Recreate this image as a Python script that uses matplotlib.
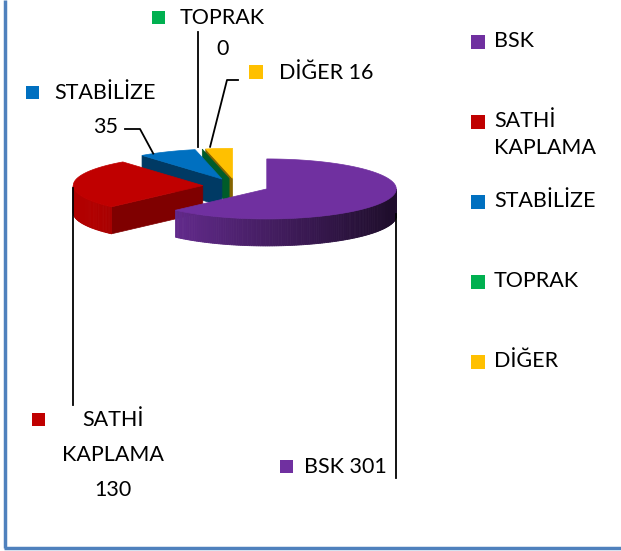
import numpy as np
import matplotlib
matplotlib.use("Agg")
import matplotlib.pyplot as plt
from matplotlib.patches import Polygon, Rectangle
from matplotlib.colors import to_rgb

# ---- data ----
categories = ["BSK", "SATHİ KAPLAMA", "STABİLİZE", "TOPRAK", "DİĞER"]
values = [301, 130, 35, 0, 16]
colors = ["#7030A0", "#C00000", "#0070C0", "#00B050", "#FFC000"]
legend_labels = ["BSK", "SATHİ\nKAPLAMA", "STABİLİZE", "TOPRAK", "DİĞER"]

plt.rcParams['font.family'] = ['Lato', 'DejaVu Sans']
FS = 15.5

W, H = 621, 551
fig = plt.figure(figsize=(W / 100, H / 100), dpi=100)
ax = fig.add_axes([0, 0, 1, 1])
ax.set_xlim(0, W)
ax.set_ylim(H, 0)
ax.axis("off")

# ---- 3D pie geometry (pixel space) ----
cx0, cy0 = 236.0, 186.0
rx, ry, th = 129.5, 30.0, 27.0
expl = 0.257


def shade(c, f):
    r, g, b = to_rgb(c)
    return (min(r * f, 1), min(g * f, 1), min(b * f, 1))


def pt(cx, cy, ang, z=0.0, r=1.0):
    a = np.radians(ang)
    return (cx + rx * r * np.cos(a), cy - ry * r * np.sin(a) + th * z)


total = float(sum(values))
slices = []
cum = 0.0
for i, v in enumerate(values):
    a_start = 90 - cum / total * 360
    a_end = a_start - v / total * 360
    cum += v
    mid = (a_start + a_end) / 2
    cx = cx0 + expl * rx * np.cos(np.radians(mid))
    cy = cy0 - expl * ry * np.sin(np.radians(mid))
    slices.append(dict(i=i, a_start=a_start, a_end=a_end, mid=mid, cx=cx, cy=cy))

for s in sorted(slices, key=lambda s: s["cy"]):
    c = colors[s["i"]]
    cx, cy, a1, a2 = s["cx"], s["cy"], s["a_start"], s["a_end"]
    # radial walls
    walls = []
    if np.sin(np.radians(a1 + 90)) < 0:
        walls.append(a1)
    if np.sin(np.radians(a2 - 90)) < 0:
        walls.append(a2)
    for wa in walls:
        f = 0.66 if s["i"] == 1 else 0.52
        poly = [pt(cx, cy, 0, 0, 0), pt(cx, cy, wa, 0), pt(cx, cy, wa, 1), pt(cx, cy, 0, 1, 0)]
        ax.add_patch(Polygon(poly, closed=True, fc=shade(c, f), ec=shade(c, f), lw=0.5, zorder=2))
    # outer wall
    if a1 > a2:
        n = max(int((a1 - a2) / 1.0), 2)
        angs = np.linspace(a2, a1, n + 1)
        for k in range(n):
            am = (angs[k] + angs[k + 1]) / 2
            if np.sin(np.radians(am)) < 0:
                f = np.clip(0.62 - 0.36 * np.cos(np.radians(am)), 0.28, 1.0)
                if s["i"] == 1:
                    f = np.clip(f, 0.8, 0.92)
                poly = [pt(cx, cy, angs[k], 0), pt(cx, cy, angs[k + 1], 0),
                        pt(cx, cy, angs[k + 1], 1), pt(cx, cy, angs[k], 1)]
                ax.add_patch(Polygon(poly, closed=True, fc=shade(c, f), ec=shade(c, f), lw=0.6, zorder=2))
        # top face
        arc = [pt(cx, cy, a) for a in np.linspace(a1, a2, n + 1)]
        poly = [pt(cx, cy, 0, 0, 0)] + arc
        ax.add_patch(Polygon(poly, closed=True, fc=c, ec=c, lw=0.5, zorder=3))

S = {s["i"]: s for s in slices}
lc = dict(color="black", lw=1.3, zorder=5)

# ---- data labels with leader lines ----
# BSK
s = S[0]
x0, y0 = pt(s["cx"], s["cy"], 0, 1)
ax.plot([x0, x0], [y0 - 2, 478], **lc)
ax.add_patch(Rectangle((280, 460), 13, 13, fc=colors[0], ec="none"))
ax.text(304, 467, "BSK 301", fontsize=FS, ha="left", va="center")

# SATHİ KAPLAMA
s = S[1]
x0, y0 = pt(s["cx"], s["cy"], 180, 0)
ax.plot([x0, x0], [y0 + 2, 405], **lc)
ax.add_patch(Rectangle((32, 413), 13, 13, fc=colors[1], ec="none"))
ax.text(113, 420, "SATHİ", fontsize=FS, ha="center", va="center")
ax.text(113, 455, "KAPLAMA", fontsize=FS, ha="center", va="center")
ax.text(113, 490, "130", fontsize=FS, ha="center", va="center")

# STABİLİZE
s = S[2]
x0, y0 = pt(s["cx"], s["cy"], s["mid"] + 7, 0)
ax.plot([x0, 140, 125], [y0, 129, 129], **lc)
ax.add_patch(Rectangle((26, 86), 13, 13, fc=colors[2], ec="none"))
ax.text(54, 93, "STABİLİZE", fontsize=FS, ha="left", va="center")
ax.text(106, 127, "35", fontsize=FS, ha="center", va="center")

# TOPRAK
s = S[3]
x0, y0 = pt(s["cx"], s["cy"], s["mid"], 0)
ax.plot([x0 - 4, x0 - 4], [y0 - 2, 32], **lc)
ax.add_patch(Rectangle((152, 11), 13, 13, fc=colors[3], ec="none"))
ax.text(180, 18, "TOPRAK", fontsize=FS, ha="left", va="center")
ax.text(223, 49, "0", fontsize=FS, ha="center", va="center")

# DİĞER
s = S[4]
x0, y0 = pt(s["cx"], s["cy"], s["mid"] + 4, 0)
ax.plot([x0, 227, 238], [y0 - 2, 80, 80], **lc)
ax.add_patch(Rectangle((249, 65), 14, 14, fc=colors[4], ec="none"))
ax.text(279, 73, "DİĞER 16", fontsize=FS, ha="left", va="center")

# ---- legend ----
leg_y = [42, 122, 202, 282, 362]
for lab, col, y in zip(legend_labels, colors, leg_y):
    ax.add_patch(Rectangle((471, y - 7), 14, 14, fc=col, ec="none"))
    ax.text(494, y - 11, lab, fontsize=FS, ha="left", va="top", linespacing=1.45)

# ---- chart border (left and bottom visible) ----
ax.plot([5, 5], [0, 548], color="#4F81BD", lw=2.5, solid_capstyle="butt", zorder=6)
ax.plot([4, W], [548, 548], color="#4F81BD", lw=2.5, solid_capstyle="butt", zorder=6)

fig.savefig("out.png", dpi=100)
